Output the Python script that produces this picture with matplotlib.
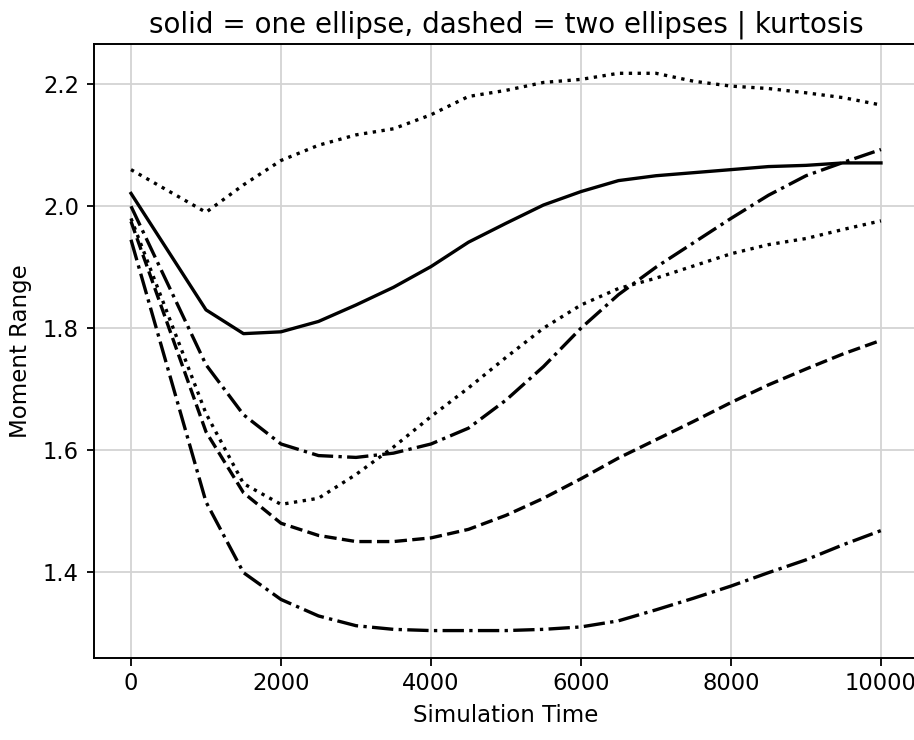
import matplotlib
matplotlib.use("Agg")
import matplotlib.pyplot as plt

time = [0, 1000, 1500, 2000, 2500, 3000, 3500, 4000, 4500, 5000, 5500,
        6000, 6500, 7000, 7500, 8000, 8500, 9000, 9500, 10000]

solid_one = [2.021, 1.830, 1.791, 1.794, 1.811, 1.838, 1.867, 1.901, 1.941, 1.972, 2.002,
             2.024, 2.042, 2.050, 2.055, 2.060, 2.065, 2.067, 2.071, 2.071]
dotted_top = [2.060, 1.990, 2.035, 2.075, 2.100, 2.117, 2.127, 2.150, 2.180, 2.190, 2.203,
              2.208, 2.218, 2.218, 2.205, 2.197, 2.193, 2.186, 2.178, 2.166]
dashdot_mid = [2.000, 1.740, 1.658, 1.610, 1.591, 1.588, 1.595, 1.610, 1.636, 1.682, 1.737,
               1.800, 1.855, 1.900, 1.940, 1.980, 2.018, 2.050, 2.072, 2.093]
dotted_mid = [1.980, 1.660, 1.545, 1.511, 1.521, 1.560, 1.605, 1.655, 1.702, 1.752, 1.800,
              1.838, 1.865, 1.882, 1.902, 1.922, 1.937, 1.947, 1.962, 1.976]
dashed = [1.975, 1.630, 1.530, 1.480, 1.460, 1.450, 1.450, 1.456, 1.470, 1.493, 1.521,
          1.553, 1.587, 1.617, 1.647, 1.678, 1.707, 1.733, 1.758, 1.780]
dashdot_low = [1.945, 1.515, 1.399, 1.355, 1.328, 1.312, 1.306, 1.304, 1.304, 1.304, 1.306,
               1.310, 1.320, 1.338, 1.357, 1.377, 1.399, 1.420, 1.445, 1.468]

series = [
    (solid_one, "-"),
    (dotted_top, ":"),
    (dashdot_mid, "-."),
    (dotted_mid, ":"),
    (dashed, "--"),
    (dashdot_low, "-."),
]

fig = plt.figure(figsize=(9.14, 7.40), dpi=100)
ax = fig.add_axes([0.1023, 0.1108, 0.9026, 0.8297])

for vals, ls in series:
    ax.plot(time, vals, color="black", linestyle=ls, linewidth=2.4)

ax.set_xlim(-500, 10500)
ax.set_ylim(1.259, 2.266)
ax.set_xticks([0, 2000, 4000, 6000, 8000, 10000])
ax.set_yticks([1.4, 1.6, 1.8, 2.0, 2.2])
ax.grid(True, color="#d3d3d3", linewidth=1.3)
ax.set_axisbelow(True)
ax.tick_params(labelsize=16.3, length=5.4, width=1.3, pad=5)
ax.set_xlabel("Simulation Time", fontsize=16.5, labelpad=6)
ax.set_ylabel("Moment Range", fontsize=16.5, labelpad=8)
ax.set_title("solid = one ellipse, dashed = two ellipses | kurtosis", fontsize=20, pad=8)
for s in ax.spines.values():
    s.set_linewidth(1.4)
ax.spines["right"].set_visible(False)

fig.savefig("out.png", dpi=100)
